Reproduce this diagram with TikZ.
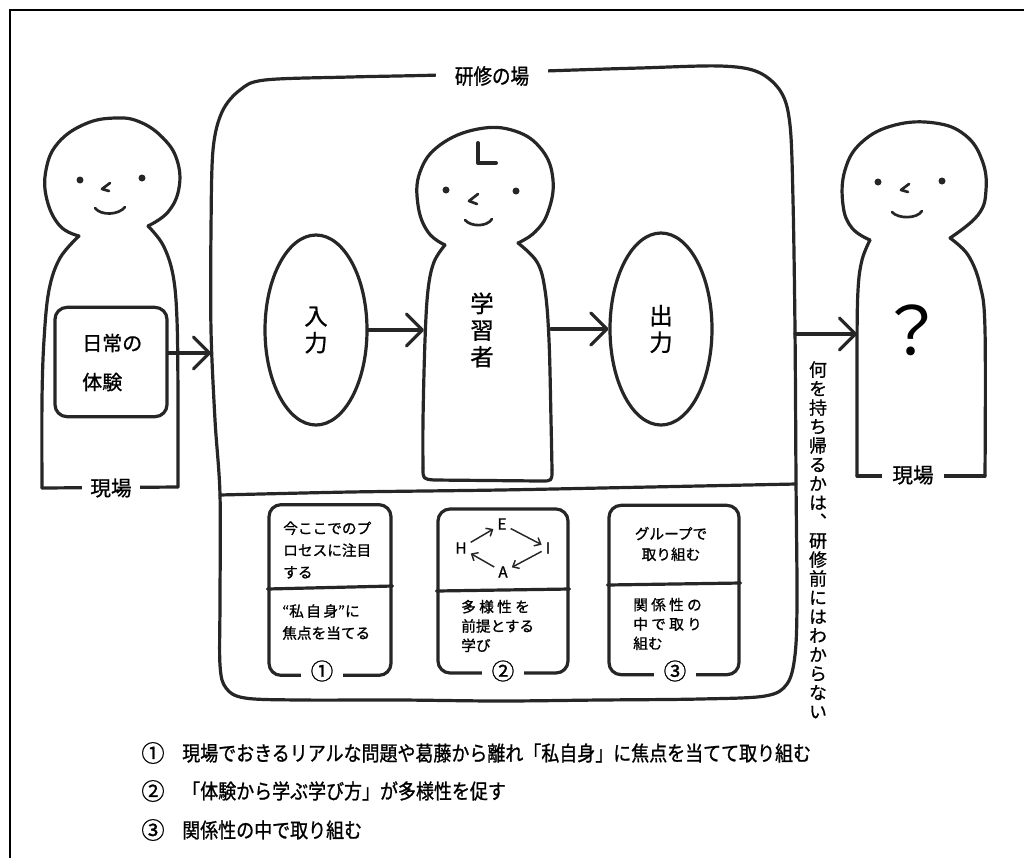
\documentclass[tikz,border=0pt]{standalone}
\usepackage{fontspec}
\usetikzlibrary{arrows.meta,shapes.geometric}
\newfontfamily\jp[FakeBold=1]{Noto Sans CJK JP}
\newfontfamily\jpplain{Noto Sans CJK JP}
\newfontfamily\jpn[FakeStretch=0.87,FakeBold=1]{Noto Sans CJK JP}
\newfontfamily\jpv[RawFeature=+vert,FakeBold=0.8]{Noto Sans CJK JP}

\begin{document}
\begin{tikzpicture}[x=0.75pt,y=-0.75pt,
  ink/.style={line width=2.4pt,draw=black!85,line cap=round,line join=round},
  frame/.style={line width=1.5pt,draw=black},
  flow/.style={ink,-{Straight Barb[length=12pt,width=24pt,round]}},
  cycarr/.style={line width=1.1pt,draw=black!85,-{Straight Barb[length=4pt,width=7pt]},shorten <=1pt,shorten >=1pt},
  gap/.style={fill=white,inner sep=3pt},
  card/.style={ink,rounded corners=9pt},
  face/.style={line width=2pt,draw=black!85,line cap=round,line join=round},
  cardtxt/.style={font=\jp\fontsize{11}{16.5}\selectfont,inner sep=0pt,align=left},
  capline/.style={font=\jpn\fontsize{15.5}{18}\selectfont,inner sep=0pt},
  capnum/.style={font=\jp\fontsize{17.5}{18}\selectfont,inner sep=0pt},
  big/.style={font=\jp\fontsize{17.5}{20}\selectfont,align=center},
  letter/.style={font=\jp\fontsize{11.5}{12}\selectfont,inner sep=2pt}
]
\useasboundingbox (0,0) rectangle (1024,858);

% outer frame
\draw[frame] (10,858) -- (10,10) -- (1024,10);

% ---------- left person ----------
\draw[ink] plot[smooth,tension=0.7] coordinates {(79,236) (60,226) (47,200) (46,170) (58,143) (85,124) (115,118) (140,122) (163,138) (177,160) (179,188) (168,212) (148,226)};
\draw[ink] plot[smooth,tension=0.6] coordinates {(79,236) (60,258) (49,290) (44,340) (42,400) (42,488)};
\draw[ink] plot[smooth,tension=0.6] coordinates {(148,226) (163,245) (173,275) (177,320) (178,400) (178,487)};
\draw[ink] (42,488) -- (178,487);
\fill[black!85] (80,180) circle (3.5) (142,178) circle (3.5);
\draw[face] (110,183) -- (102,189) -- (109,191);
\draw[face] (95,208) .. controls (101,216) and (119,215) .. (125,207);
\node[gap,inner xsep=6pt,font=\jp\fontsize{15.5}{18}\selectfont] (siteL) at (111,488) {現場};

\node[card,minimum width=84pt,minimum height=82pt] (exp) at (111,362) {};
\node[font=\jp\fontsize{15}{18}\selectfont,anchor=west,inner sep=0] (expA) at (82,343) {日常の};
\node[font=\jp\fontsize{15}{18}\selectfont,anchor=west,inner sep=0] (expB) at (82,382) {体験};

% ---------- training space ----------
\draw[ink] plot[smooth cycle,tension=0.55] coordinates {(265,80) (350,77) (440,75) (545,71) (640,68) (720,66) (758,72) (781,92) (790,125) (793,200) (795,330) (796,480) (797,600) (795,655) (787,684) (765,696) (700,699) (600,700) (500,701) (400,700) (300,700) (245,698) (226,688) (220,665) (220,600) (220,495) (215,420) (211,330) (211,230) (213,150) (222,112) (240,90)};
\draw[ink] plot[smooth,tension=0.5] coordinates {(220,495) (350,492) (500,490) (650,487) (796,484)};
\node[gap,inner xsep=14pt,inner ysep=6pt,font=\jpn\fontsize{16}{18}\selectfont] (space) at (492,76) {研修の場};

% learner
\draw[ink] plot[smooth,tension=0.7] coordinates {(445,245) (428,232) (418,205) (420,172) (440,145) (478,129) (515,131) (542,150) (553,180) (548,212) (535,232) (518,243)};
\draw[ink] plot[smooth,tension=0.6] coordinates {(445,245) (434,262) (428,290) (425,340) (423,420) (423,468)};
\draw[ink] (423,468) .. controls (423,479) .. (434,480) -- (541,481) .. controls (552,481) .. (552,470);
\draw[ink] plot[smooth,tension=0.6] coordinates {(552,470) (551,420) (549,340) (545,290) (537,262) (518,243)};
\draw[line width=3pt,draw=black!85,line cap=round,line join=round] (478,143) -- (478,163) -- (496,163);
\fill[black!85] (446,190) circle (3.5) (516,191) circle (3.5);
\draw[face] (478,194) -- (469,201) -- (477,204);
\draw[face] (465,220) .. controls (471,227) and (487,227) .. (492,219);
\node[big] (learner) at (482,330) {学\\習\\者};

\node[ink,ellipse,minimum width=76.5pt,minimum height=142.5pt,big] (in) at (316,330) {入\\力};
\node[ink,ellipse,minimum width=76.5pt,minimum height=144pt,big] (out) at (661,329) {出\\力};

\coordinate (boxL) at (211,353);
\coordinate (learnL) at (424,330);
\coordinate (learnR) at (551,329);
\coordinate (boxR) at (795,334);
\coordinate (rightP) at (857,334);
\draw[flow] (exp.east |- boxL) -- (boxL);
\draw[flow] (in.east) -- (learnL);
\draw[flow] (learnR) -- (out.west);
\draw[flow] (boxR) -- (rightP);

% three cards
\node[card,minimum width=91.5pt,minimum height=128pt] (card1) at (330,590) {};
\draw[ink] (card1.west |- 0,589) -- (card1.east |- 0,586);
\node[card,minimum width=97.5pt,minimum height=123pt] (card2) at (503,591) {};
\draw[ink] (card2.west |- 0,591) -- (card2.east |- 0,589);
\node[card,minimum width=97.5pt,minimum height=127pt] (card3) at (674,590) {};
\draw[ink] (card3.west |- 0,585) -- (card3.east |- 0,583);

\node[cardtxt,anchor=west] (t1a) at (283,550) {今ここでのプ\\ロセスに注目\\する};
\node[cardtxt,anchor=west] (t1b) at (282,622) {“私\,自\,身”に\\焦点を当てる};

\node[letter] (E) at (502,524) {E};
\node[letter] (H) at (461,548) {H};
\node[letter] (I) at (548,548) {I};
\node[letter] (A) at (503,572) {A};
\draw[cycarr] (H) -- (E);
\draw[cycarr] (E) -- (I);
\draw[cycarr] (I) -- (A);
\draw[cycarr] (A) -- (H);
\node[cardtxt,anchor=west,font=\jp\fontsize{11}{14.5}\selectfont] (t2b) at (461,626) {多 様 性 を\\前提とする\\学び};

\node[cardtxt,align=center,font=\jp\fontsize{11}{15.5}\selectfont] (t3a) at (671,544) {グループで\\取り組む};
\node[cardtxt,anchor=west,font=\jp\fontsize{11}{14.5}\selectfont] (t3b) at (633,624) {関 係 性 の\\中 で 取 り\\組む};

\node[gap,font=\jp\fontsize{17}{18}\selectfont,inner xsep=7pt,inner ysep=3pt] (m1) at (322,671) {①};
\node[gap,font=\jp\fontsize{17}{18}\selectfont,inner xsep=7pt,inner ysep=3pt] (m2) at (503,671) {②};
\node[gap,font=\jp\fontsize{17}{18}\selectfont,inner xsep=7pt,inner ysep=3pt] (m3) at (675,671) {③};

% vertical note
\node[font=\jpv\fontsize{13.5}{14.25}\selectfont,align=center,anchor=north,inner sep=0] (note) at (818,361)
  {何\\を\\持\\ち\\帰\\る\\か\\は\\、\\研\\修\\前\\に\\は\\わ\\か\\ら\\な\\い};

% ---------- right person ----------
\draw[ink] plot[smooth,tension=0.7] coordinates {(870,240) (852,228) (843,205) (845,170) (862,142) (895,125) (935,123) (965,135) (982,160) (986,190) (978,215) (950,238)};
\draw[ink] plot[smooth,tension=0.6] coordinates {(870,240) (862,260) (858,290) (857,350) (857,476)};
\draw[ink] plot[smooth,tension=0.6] coordinates {(950,238) (968,255) (980,285) (985,330) (985,476)};
\draw[ink] (857,476) -- (985,476);
\fill[black!85] (878,182) circle (3.5) (942,181) circle (3.5);
\draw[face] (909,184) -- (901,190) -- (908,192);
\draw[face] (892,212) .. controls (898,219) and (917,219) .. (922,211);
\node[font=\jpplain\fontsize{50}{54}\selectfont] (q) at (912,330) {？};
\node[gap,inner xsep=8pt,font=\jp\fontsize{15.5}{18}\selectfont] (siteR) at (913,475) {現場};

% ---------- notes below ----------
\node[capnum] (n1) at (153,753) {①};
\node[capline,anchor=west] (c1) at (182,753) {現場でおきるリアルな問題や葛藤から離れ「私自身」に焦点を当てて取り組む};
\node[capnum] (n2) at (153,791) {②};
\node[capline,anchor=west] (c2) at (182,791) {「体験から学ぶ学び方」が多様性を促す};
\node[capnum] (n3) at (153,830) {③};
\node[capline,anchor=west] (c3) at (182,830) {関係性の中で取り組む};
\end{tikzpicture}
\end{document}
